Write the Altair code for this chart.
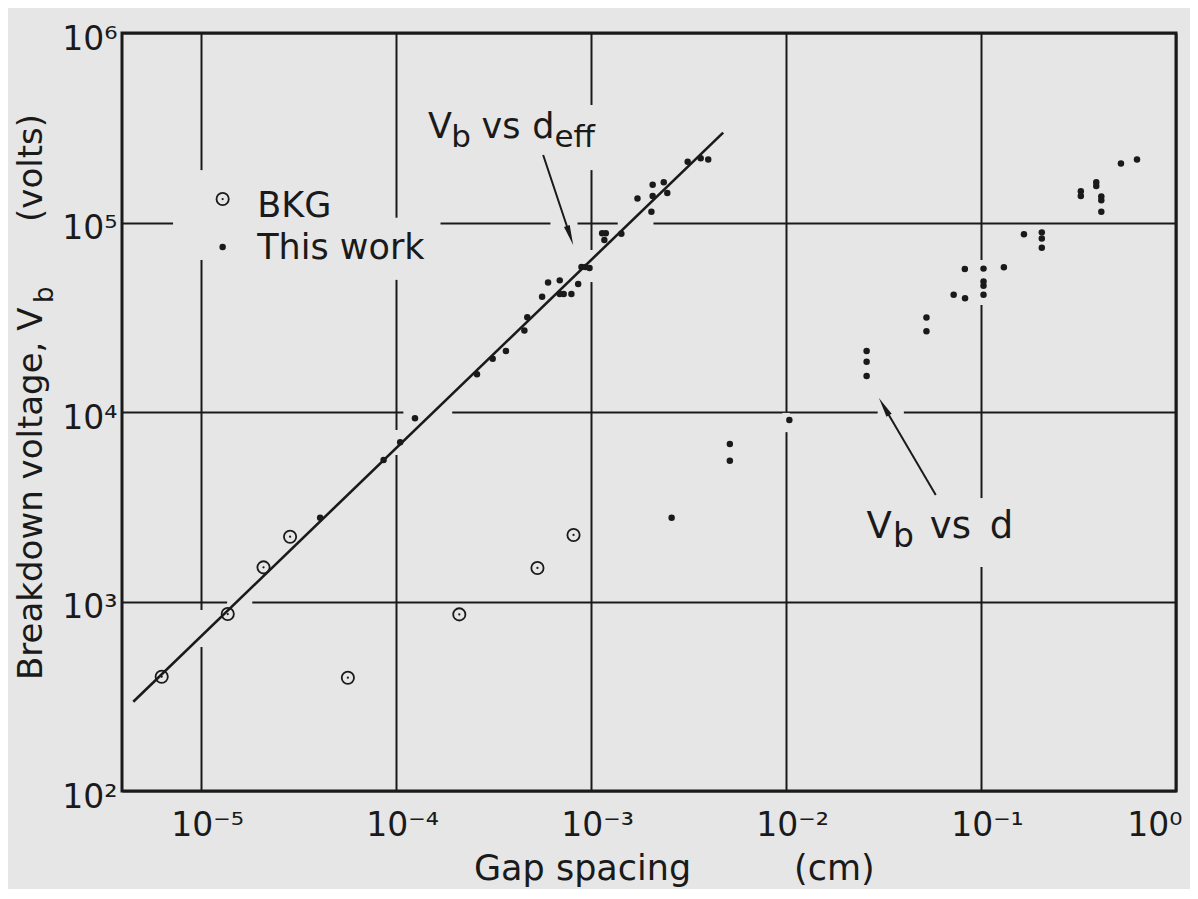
import json
import altair as alt
import pandas as pd

INK = "#1a1a1a"
PAPER = "#e6e6e6"
FONT = "DejaVu Sans"

# ---------------- data ----------------
# BKG (open circles)
bkg_d = [6.28e-6, 1.37e-5, 2.09e-5, 2.86e-5, 5.66e-5, 2.11e-4, 5.31e-4, 8.13e-4]
bkg_v = [401, 859, 1514, 2198, 396, 855, 1503, 2244]

# This work (filled dots)
work_d = [4.08e-5, 8.63e-5, 1.05e-4, 1.25e-4, 2.60e-4, 3.13e-4, 3.66e-4, 4.55e-4,
          4.71e-4, 5.61e-4, 6.02e-4, 6.91e-4, 6.91e-4, 7.24e-4, 7.93e-4, 8.59e-4,
          8.93e-4, 9.36e-4, 9.82e-4, 1.14e-3, 1.19e-3, 1.17e-3, 1.43e-3, 1.73e-3,
          2.04e-3, 2.07e-3, 2.07e-3, 2.36e-3, 2.46e-3, 3.13e-3, 3.65e-3, 3.99e-3,
          2.59e-3, 5.15e-3, 5.15e-3, 1.04e-2, 2.59e-2, 2.59e-2, 2.59e-2, 5.25e-2,
          5.25e-2, 7.24e-2, 8.28e-2, 8.26e-2, 0.103, 0.103, 0.103, 0.103,
          0.131, 0.166, 0.205, 0.205, 0.205, 0.325, 0.325, 0.390,
          0.390, 0.414, 0.414, 0.414, 0.522, 0.631]
work_v = [2767, 5585, 6918, 9268, 15800, 19100, 21000, 26900,
          31600, 40600, 48300, 49500, 42000, 42000, 42000, 47300,
          58200, 58200, 57500, 87700, 87700, 80900, 87300, 134000,
          114000, 158000, 138000, 163000, 143000, 209000, 218000, 215000,
          2767, 6780, 5535, 9080, 21000, 18400, 15500, 31500,
          26700, 41600, 39800, 56900, 57100, 48800, 46400, 41600,
          58000, 86700, 88700, 82400, 73600, 146000, 138000, 163000,
          156000, 137000, 131000, 114000, 205000, 215000]

# fitted line  V_b vs d_eff
fit_d = [4.49e-6, 4.76e-3]
fit_v = [296, 2.98e5]

# axis ticks
x_tick_values = [1e-5, 1e-4, 1e-3, 1e-2, 1e-1, 1]
x_tick_labels = ["10⁻⁵", "10⁻⁴", "10⁻³", "10⁻²", "10⁻¹", "10⁰"]
y_tick_values = [1e2, 1e3, 1e4, 1e5, 1e6]
y_tick_labels = ["10²", "10³", "10⁴", "10⁵", "10⁶"]

# annotation texts (data coordinates)
ann_text = ["V", "b", "vs", "d", "eff", "V", "b", "vs", "d"]
ann_d = [1.46e-4, 1.92e-4, 2.74e-4, 5.00e-4, 6.49e-4, 0.0259, 0.0354, 0.0546, 0.111]
ann_v = [2.79e5, 2.50e5, 2.79e5, 2.79e5, 2.50e5, 2163, 1941, 2163, 2163]
ann_size = [35, 31, 35, 35, 31, 37, 33, 37, 37]

# arrows: tail -> head
arrow_d1 = [5.68e-4, 0.0586]
arrow_v1 = [2.27e5, 3648]
arrow_d2 = [7.80e-4, 0.0318]
arrow_v2 = [8.54e4, 10670]
arrow_angle = [161.6, 329.5]

# legend
legend_marker_d = 1.29e-5
legend_bkg_v = 1.33e5
legend_work_v = 7.43e4
legend_text_d = 1.94e-5
legend_text = ["BKG", "This work"]
legend_text_v = [1.07e5, 6.41e4]

# gaps in the hand-drawn grid lines
hgap_at = [1e5, 1e5, 1e5, 1e4, 1e4, 1e3]
hgap_from = [7.18e-6, 6.19e-4, 1.37e-3, 1.09e-4, 2.95e-2, 1.36e-5]
hgap_to = [1.69e-4, 8.52e-4, 2.09e-3, 1.94e-4, 4.02e-2, 1.83e-5]
vgap_at = [1e-5, 1e-5, 1e-4, 1e-4, 1e-3, 1e-3, 1e-2, 1e-1, 1e-1]
vgap_from = [6.34e4, 575, 4.98e4, 5930, 1.89e5, 4.85e4, 7830, 3.67e4, 1521]
vgap_to = [1.89e5, 902, 1.06e5, 8040, 4.17e5, 7.16e4, 9890, 6.34e4, 3515]

# ---------------- tables ----------------
bkg = pd.DataFrame({"d": bkg_d, "v": bkg_v})
work = pd.DataFrame({"d": work_d, "v": work_v})
fit = pd.DataFrame({"d": fit_d, "v": fit_v})
ann = pd.DataFrame({"t": ann_text, "d": ann_d, "v": ann_v, "s": ann_size})
arrows = pd.DataFrame({"d": arrow_d1, "v": arrow_v1, "d2": arrow_d2, "v2": arrow_v2,
                       "a": arrow_angle})
leg_bkg = pd.DataFrame({"d": [legend_marker_d], "v": [legend_bkg_v]})
leg_work = pd.DataFrame({"d": [legend_marker_d], "v": [legend_work_v]})
leg_txt = pd.DataFrame({"t": legend_text, "d": [legend_text_d] * 2, "v": legend_text_v})
w = 1.045
masks = pd.DataFrame({
    "d": hgap_from + [x / w for x in vgap_at],
    "d2": hgap_to + [x * w for x in vgap_at],
    "v": [y / w for y in hgap_at] + vgap_from,
    "v2": [y * w for y in hgap_at] + vgap_to,
})

xscale = alt.Scale(type="log", domain=[3.93e-6, 1], nice=False)
yscale = alt.Scale(type="log", domain=[100, 1e6], nice=False)

xaxis = alt.Axis(values=x_tick_values, title=None, grid=True, ticks=False, domain=False,
                 labelExpr=json.dumps(x_tick_labels, ensure_ascii=False)
                 + "[round(log(datum.value)/LN10)+5]",
                 labelPadding=44, labelBaseline="alphabetic", labelFlush=False,
                 labelOverlap=False, labelOffset=6,
                 labelAlign={"condition": {"test": "datum.value >= 1", "value": "right"},
                             "value": "center"})
yaxis = alt.Axis(values=y_tick_values, title=None, grid=True, ticks=False, domain=False,
                 labelExpr=json.dumps(y_tick_labels, ensure_ascii=False)
                 + "[round(log(datum.value)/LN10)-2]",
                 labelPadding=5, labelAlign="right", labelBaseline="alphabetic",
                 labelOffset=16, labelFlush=False, labelOverlap=False)


def X(f="d"):
    return alt.X(f + ":Q", scale=xscale, axis=xaxis)


def Y(f="v"):
    return alt.Y(f + ":Q", scale=yscale, axis=yaxis)


mask_layer = alt.Chart(masks).mark_rect(color=PAPER).encode(
    x=X(), x2="d2:Q", y=Y(), y2="v2:Q")

fit_layer = alt.Chart(fit).mark_line(color=INK, strokeWidth=2.6).encode(x=X(), y=Y())

bkg_ring = alt.Chart(bkg).mark_point(shape="circle", filled=False, color=INK,
                                     strokeWidth=1.8, size=150, opacity=1).encode(x=X(), y=Y())
bkg_dot = alt.Chart(bkg).mark_circle(color=INK, size=5, opacity=1).encode(x=X(), y=Y())
work_layer = alt.Chart(work).mark_circle(color=INK, size=42, opacity=1).encode(x=X(), y=Y())

ann_layer = alt.Chart(ann).mark_text(color=INK, font=FONT, align="left",
                                     baseline="alphabetic").encode(
    x=X(), y=Y(), text="t:N", size=alt.Size("s:Q", scale=None, legend=None))

shaft = alt.Chart(arrows).mark_rule(color=INK, strokeWidth=2).encode(
    x=X(), y=Y(), x2="d2:Q", y2="v2:Q")
head = alt.Chart(arrows).mark_point(shape="M0,-1L0.3,1L-0.3,1Z", filled=True, color=INK,
                                    size=400, opacity=1).encode(
    x=X("d2"), y=Y("v2"), angle=alt.Angle("a:Q", scale=None))

leg_ring = alt.Chart(leg_bkg).mark_point(shape="circle", filled=False, color=INK,
                                         strokeWidth=1.8, size=150, opacity=1).encode(x=X(), y=Y())
leg_ring_dot = alt.Chart(leg_bkg).mark_circle(color=INK, size=5, opacity=1).encode(x=X(), y=Y())
leg_dot = alt.Chart(leg_work).mark_circle(color=INK, size=42, opacity=1).encode(x=X(), y=Y())
leg_text = alt.Chart(leg_txt).mark_text(color=INK, font=FONT, fontSize=35, align="left",
                                        baseline="alphabetic").encode(x=X(), y=Y(), text="t:N")

# axis titles (with subscript) as text marks outside the plot area
title_one = pd.DataFrame({"t": ["x"]})
xt1 = alt.Chart(title_one).mark_text(text="Gap spacing", color=INK, font=FONT, fontSize=35,
                                     align="left", baseline="alphabetic").encode(
    x=alt.value(352), y=alt.value(847))
xt2 = alt.Chart(title_one).mark_text(text="(cm)", color=INK, font=FONT, fontSize=35,
                                     align="left", baseline="alphabetic").encode(
    x=alt.value(672), y=alt.value(847))
yt1 = alt.Chart(title_one).mark_text(text="Breakdown voltage, V", color=INK, font=FONT,
                                     fontSize=34, align="left", baseline="alphabetic",
                                     angle=270).encode(x=alt.value(-80), y=alt.value(647))
yt2 = alt.Chart(title_one).mark_text(text="b", color=INK, font=FONT, fontSize=26,
                                     align="left", baseline="alphabetic",
                                     angle=270).encode(x=alt.value(-69), y=alt.value(270))
yt3 = alt.Chart(title_one).mark_text(text="(volts)", color=INK, font=FONT, fontSize=34,
                                     align="left", baseline="alphabetic",
                                     angle=270).encode(x=alt.value(-80), y=alt.value(189))

chart = alt.layer(
    mask_layer, fit_layer, bkg_ring, bkg_dot, work_layer, ann_layer, shaft, head,
    leg_ring, leg_ring_dot, leg_dot, leg_text, xt1, xt2, yt1, yt2, yt3
).properties(
    width=1054, height=758,
    autosize=alt.AutoSizeParams(type="none"),
    padding={"left": 114, "top": 25, "right": 14, "bottom": 98},
    background=PAPER,
).configure_view(
    stroke=INK, strokeWidth=3
).configure_axis(
    labelFont=FONT, labelFontSize=33, labelColor=INK,
    gridColor=INK, gridWidth=2, gridOpacity=1,
)

chart.save("out.html", embed_options={"renderer": "svg", "actions": False})
